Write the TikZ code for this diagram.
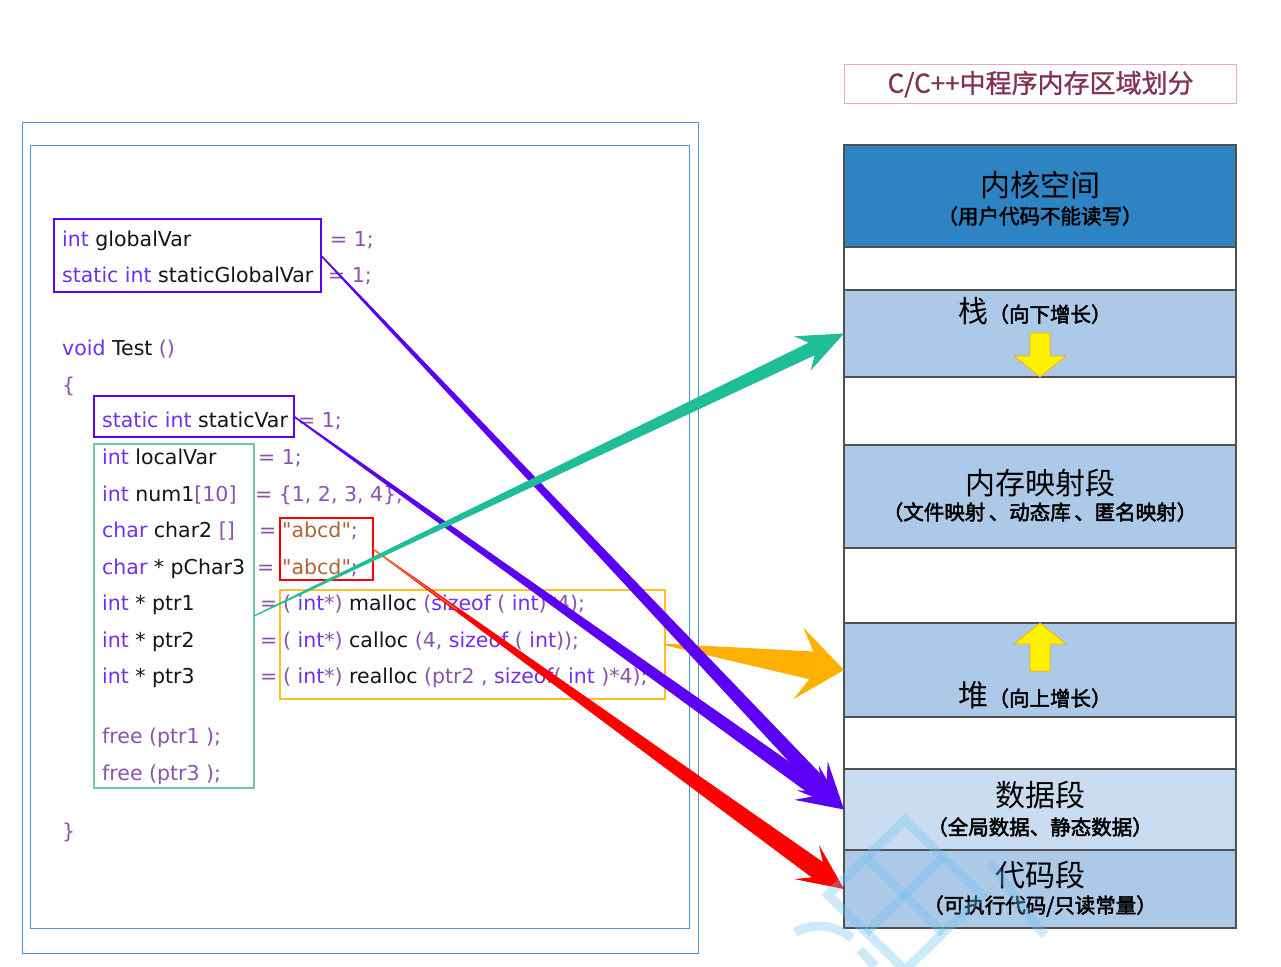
\documentclass[tikz,border=0pt]{standalone}
\usepackage{fontspec}
\usetikzlibrary{calc}
\newfontfamily\codefont{DejaVu Sans}
\newfontfamily\cjk{Noto Sans CJK SC}
\newfontfamily\cjkt[FakeBold=1]{Noto Sans CJK SC}
\newfontfamily\cjkb[FakeBold=2.4]{Noto Sans CJK SC}
\definecolor{kw}{RGB}{112,48,240}
\definecolor{idc}{RGB}{20,20,20}
\definecolor{pu}{RGB}{140,82,172}
\definecolor{stc}{RGB}{176,100,50}
\definecolor{vio}{RGB}{92,0,245}
\definecolor{tealc}{RGB}{32,190,152}
\definecolor{amber}{RGB}{255,176,0}
\definecolor{mint}{RGB}{110,200,170}
\definecolor{yboxc}{RGB}{255,192,32}
\definecolor{framec}{RGB}{80,150,205}
\definecolor{kern}{RGB}{46,131,194}
\definecolor{lb}{RGB}{173,201,232}
\definecolor{lbb}{RGB}{202,220,241}
\definecolor{titlec}{RGB}{130,50,85}
\definecolor{pinkc}{RGB}{232,170,192}
\definecolor{wmc}{RGB}{110,195,238}
\definecolor{orl}{RGB}{240,112,48}
\newcommand\ckw[1]{\textcolor{kw}{#1}}
\newcommand\cpu[1]{\textcolor{pu}{#1}}
\newcommand\cst[1]{\textcolor{stc}{#1}}
% tapered block arrow: color, start, tip, w0, w1, Lneck, Lbarb, H
\newcommand\tapArrow[8]{%
  \path (#2) coordinate (tpA) (#3) coordinate (tpT);
  \path ($(tpT)!#6!(tpA)$) coordinate (tpN) ($(tpT)!#7!(tpA)$) coordinate (tpB);
  \fill[#1] ($(tpA)!#4!90:(tpT)$) -- ($(tpN)!#5!-90:(tpA)$) -- ($(tpB)!#8!-90:(tpA)$)
     -- (tpT) -- ($(tpB)!#8!90:(tpA)$) -- ($(tpN)!#5!90:(tpA)$) -- ($(tpA)!#4!-90:(tpT)$) -- cycle;}
\tikzset{
  code/.style={font=\codefont\fontsize{20.5}{24}\selectfont, anchor=base west, inner sep=0pt, text=idc},
  cbox/.style={draw=#1, anchor=north west, inner sep=0pt, outer sep=0pt},
  blk/.style={draw={rgb,255:red,80;green,80;blue,80}, line width=1.5pt, anchor=north west,
     minimum width=392pt, inner sep=0pt, outer sep=0pt},
  big/.style={font=\cjk\fontsize{30}{34}\selectfont, inner sep=0pt},
  sub/.style={font=\cjkb\fontsize{20.5}{24}\selectfont, inner sep=0pt},
  garrow/.style={fill=yellow, draw={rgb,255:red,240;green,176;blue,0}, line width=0.8pt}
}
\begin{document}
\begin{tikzpicture}[x=1pt,y=-1pt]
\useasboundingbox (0,0) rectangle (1281,966);
\fill[white] (0,0) rectangle (1281,966);
% frames
\draw[framec, line width=1pt] (22,122) rectangle (698,953);
\draw[framec, line width=1pt] (30,145) rectangle (689,928);
% title
\node[draw=pinkc, line width=1.2pt, minimum width=392pt, minimum height=39pt, anchor=north west,
  inner sep=0pt, font=\cjkt\fontsize{26}{30}\selectfont, text=titlec] (title) at (844,64) {C/C++中程序内存区域划分};
% memory blocks
\node[blk, fill=kern, minimum height=102pt] (kern) at (844,145) {};
\node[blk, fill=white, minimum height=43pt] (gap1) at (844,247) {};
\node[blk, fill=lb, minimum height=87pt] (stack) at (844,290) {};
\node[blk, fill=white, minimum height=68pt] (gap2) at (844,377) {};
\node[blk, fill=lb, minimum height=103pt] (mmap) at (844,445) {};
\node[blk, fill=white, minimum height=75pt] (gap3) at (844,548) {};
\node[blk, fill=lb, minimum height=94pt] (heap) at (844,623) {};
\node[blk, fill=white, minimum height=52pt] (gap4) at (844,717) {};
\node[blk, fill=lbb, minimum height=81pt] (data) at (844,769) {};
\node[blk, fill=lb, minimum height=78pt] (code) at (844,850) {};
% block texts
\node[big] (t1) at (1040,185) {内核空间};
\node[sub] (t1s) at (1040,216) {（用户代码不能读写）};
\node[anchor=base, inner sep=0pt] (t2) at (1035,322) {{\cjk\fontsize{30}{34}\selectfont 栈}{\cjkb\fontsize{20.5}{24}\selectfont （向下增长）}};
\node[big] (t3) at (1040,483) {内存映射段};
\node[sub] (t3s) at (1040,512) {（文件映射\,、动态库\,、匿名映射）};
\node[anchor=base, inner sep=0pt] (t4) at (1035,706) {{\cjk\fontsize{30}{34}\selectfont 堆}{\cjkb\fontsize{20.5}{24}\selectfont （向上增长）}};
\node[big] (t5) at (1040,795) {数据段};
\node[sub] (t5s) at (1040,827) {（全局数据、静态数据）};
\node[big] (t6) at (1040,875) {代码段};
\node[sub] (t6s) at (1040,906) {（可执行代码/只读常量）};
% growth arrows
\draw[garrow] (1030,333) -- (1050,333) -- (1050,356) -- (1066,356) -- (1040,377) -- (1014,356) -- (1030,356) -- cycle;
\draw[garrow] (1040,623) -- (1066,644) -- (1050,644) -- (1050,671) -- (1030,671) -- (1030,644) -- (1014,644) -- cycle;
% code text
\node[code] (l1) at (62,246) {\ckw{int} globalVar};
\node[code] (l1r) at (330,246) {\cpu{= 1;}};
\node[code] (l2) at (62,282) {\ckw{static int} staticGlobalVar};
\node[code] (l2r) at (328,282) {\cpu{= 1;}};
\node[code] (l3) at (62,355) {\ckw{void} Test \cpu{()}};
\node[code] (l4) at (62,392) {\cpu{\{}};
\node[code] (l5) at (102,427) {\ckw{static int} staticVar};
\node[code] (l5r) at (298,427) {\cpu{= 1;}};
\node[code] (l6) at (102,464) {\ckw{int} localVar};
\node[code] (l6r) at (258,464) {\cpu{= 1;}};
\node[code] (l7) at (102,501) {\ckw{int} num1\cpu{[10]}};
\node[code] (l7r) at (255,501) {\cpu{= \{1, 2, 3, 4\};}};
\node[code] (l8) at (102,537) {\ckw{char} char2 \cpu{[]}};
\node[code] (l8e) at (259,537) {\cpu{=}};
\node[code] (l8r) at (282,537) {\cst{"abcd"}\cpu{;}};
\node[code] (l9) at (102,574) {\ckw{char} * pChar3};
\node[code] (l9e) at (257,574) {\cpu{=}};
\node[code] (l9r) at (282,574) {\cst{"abcd"}\cpu{;}};
\node[code] (l10) at (102,610) {\ckw{int} * ptr1};
\node[code] (l10e) at (260,610) {\cpu{=}};
\node[code] (l10r) at (283,610) {\cpu{(} \ckw{int}\cpu{*)} malloc \cpu{(}\ckw{sizeof} \cpu{(} \ckw{int}\cpu{)*4);}};
\node[code] (l11) at (102,647) {\ckw{int} * ptr2};
\node[code] (l11e) at (260,647) {\cpu{=}};
\node[code] (l11r) at (283,647) {\cpu{(} \ckw{int}\cpu{*)} calloc \cpu{(4,} \ckw{sizeof} \cpu{(} \ckw{int}\cpu{));}};
\node[code] (l12) at (102,683) {\ckw{int} * ptr3};
\node[code] (l12e) at (260,683) {\cpu{=}};
\node[code] (l12r) at (283,683) {\cpu{(} \ckw{int}\cpu{*)} realloc \cpu{(ptr2 ,} \ckw{sizeof}\cpu{(} \ckw{int} \cpu{)*4);}};
\node[code] (l13) at (102,743) {\cpu{free (ptr1 );}};
\node[code] (l14) at (102,780) {\cpu{free (ptr3 );}};
\node[code] (l15) at (62,838) {\cpu{\}}};
% boxes
\node[cbox=vio, line width=2.5pt, minimum width=267pt, minimum height=73pt] (b1) at (54,219) {};
\node[cbox=vio, line width=2.5pt, minimum width=200pt, minimum height=41pt] (b2) at (94,396) {};
\node[cbox=mint, line width=2pt, minimum width=160pt, minimum height=344pt] (gbox) at (94,444) {};
\node[cbox=red, line width=2.5pt, minimum width=93pt, minimum height=62pt] (rbox) at (280,518) {};
\node[cbox=yboxc, line width=2pt, minimum width=385pt, minimum height=109pt] (ybox) at (280,590) {};
% arrows
\tapArrow{amber}{ybox.east}{heap.west}{0.8pt}{14pt}{33pt}{46pt}{36pt}
\tapArrow{vio}{b1.east}{data.west}{0.8pt}{7.5pt}{33pt}{46pt}{21pt}
\tapArrow{vio}{b2.east}{data.west}{0.8pt}{7.5pt}{33pt}{46pt}{21pt}
\tapArrow{red}{rbox.east}{code.west}{0.5pt}{9.5pt}{33pt}{46pt}{21pt}
\draw[orl, line width=1.2pt] (rbox.east) -- ($(rbox.east)!0.18!(code.west)$);
\tapArrow{tealc}{gbox.east}{stack.west}{0.6pt}{7pt}{36pt}{46pt}{19pt}
% watermark
\begin{scope}
\clip (0,0) rectangle (1281,966);
\begin{scope}[draw=wmc, opacity=0.35, line width=9pt]
\draw (905,820) -- (982,895) -- (905,970) -- (828,895) -- cycle;
\draw (866,857) -- (943,933);
\draw (943,857) -- (866,933);
\draw (990,862) .. controls (1015,895) and (1030,920) .. (1045,935);
\draw (795,932) .. controls (815,922) and (835,925) .. (852,938);
\draw (860,950) -- (875,966);
\end{scope}
\end{scope}
\end{tikzpicture}
\end{document}
